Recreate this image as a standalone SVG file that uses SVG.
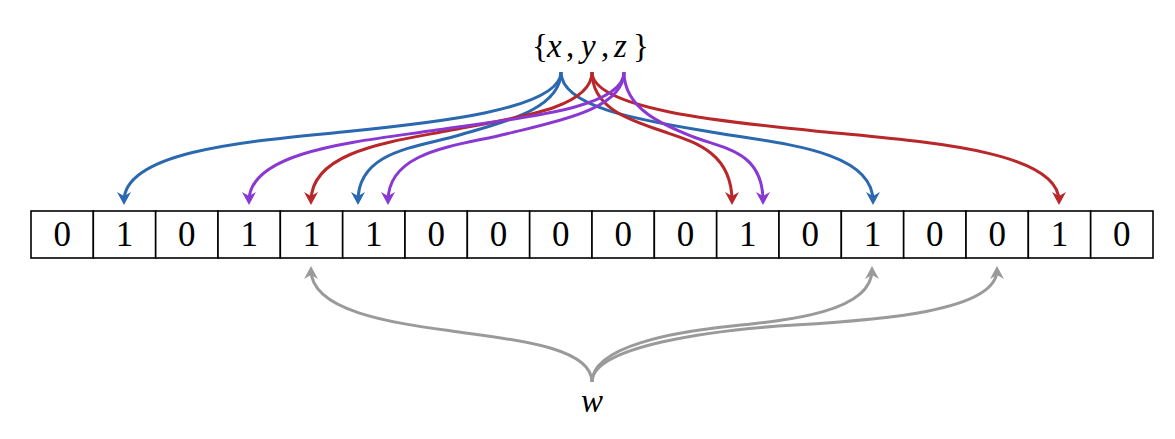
<svg xmlns="http://www.w3.org/2000/svg" width="1175" height="439" viewBox="0 0 1175 439">
<style>
.cell rect{fill:#fff;stroke:#000;stroke-width:1.6}
.cell text{font-family:"Liberation Serif","Times New Roman",serif;font-size:35px;text-anchor:middle;fill:#000}
.lbl{font-family:"Liberation Serif","Times New Roman",serif;font-size:33px;fill:#000}
.it{font-style:italic}
.c{fill:none;stroke-width:3;stroke-linecap:butt}
.b{stroke:#2a68b0}.r{stroke:#b8272a}.p{stroke:#8a38d2}.g{stroke:#9a9a9a}
</style>
<defs>
<marker id="ab" viewBox="-1 -8 15 16" refX="9" refY="0" markerWidth="15" markerHeight="16" markerUnits="userSpaceOnUse" orient="auto"><path d="M13,0 L0,-7 L4,0 L0,7 Z" fill="#2a68b0"/></marker>
<marker id="ar" viewBox="-1 -8 15 16" refX="9" refY="0" markerWidth="15" markerHeight="16" markerUnits="userSpaceOnUse" orient="auto"><path d="M13,0 L0,-7 L4,0 L0,7 Z" fill="#b8272a"/></marker>
<marker id="ap" viewBox="-1 -8 15 16" refX="9" refY="0" markerWidth="15" markerHeight="16" markerUnits="userSpaceOnUse" orient="auto"><path d="M13,0 L0,-7 L4,0 L0,7 Z" fill="#8a38d2"/></marker>
<marker id="ag" viewBox="-1 -8 15 16" refX="9" refY="0" markerWidth="15" markerHeight="16" markerUnits="userSpaceOnUse" orient="auto"><path d="M13,0 L0,-7 L4,0 L0,7 Z" fill="#9a9a9a"/></marker>
</defs>
<rect width="1175" height="439" fill="#fff"/>
<g id="array">
<g id="cell0" class="cell"><rect x="31" y="211" width="62.33" height="47"/><text x="62.2" y="246">0</text></g>
<g id="cell1" class="cell"><rect x="93.33" y="211" width="62.33" height="47"/><text x="124.5" y="246">1</text></g>
<g id="cell2" class="cell"><rect x="155.67" y="211" width="62.33" height="47"/><text x="186.8" y="246">0</text></g>
<g id="cell3" class="cell"><rect x="218" y="211" width="62.33" height="47"/><text x="249.2" y="246">1</text></g>
<g id="cell4" class="cell"><rect x="280.33" y="211" width="62.33" height="47"/><text x="311.5" y="246">1</text></g>
<g id="cell5" class="cell"><rect x="342.67" y="211" width="62.33" height="47"/><text x="373.8" y="246">1</text></g>
<g id="cell6" class="cell"><rect x="405" y="211" width="62.33" height="47"/><text x="436.2" y="246">0</text></g>
<g id="cell7" class="cell"><rect x="467.33" y="211" width="62.33" height="47"/><text x="498.5" y="246">0</text></g>
<g id="cell8" class="cell"><rect x="529.67" y="211" width="62.33" height="47"/><text x="560.8" y="246">0</text></g>
<g id="cell9" class="cell"><rect x="592" y="211" width="62.33" height="47"/><text x="623.2" y="246">0</text></g>
<g id="cell10" class="cell"><rect x="654.33" y="211" width="62.33" height="47"/><text x="685.5" y="246">0</text></g>
<g id="cell11" class="cell"><rect x="716.67" y="211" width="62.33" height="47"/><text x="747.8" y="246">1</text></g>
<g id="cell12" class="cell"><rect x="779" y="211" width="62.33" height="47"/><text x="810.2" y="246">0</text></g>
<g id="cell13" class="cell"><rect x="841.33" y="211" width="62.33" height="47"/><text x="872.5" y="246">1</text></g>
<g id="cell14" class="cell"><rect x="903.67" y="211" width="62.33" height="47"/><text x="934.8" y="246">0</text></g>
<g id="cell15" class="cell"><rect x="966" y="211" width="62.33" height="47"/><text x="997.2" y="246">0</text></g>
<g id="cell16" class="cell"><rect x="1028.33" y="211" width="62.33" height="47"/><text x="1059.5" y="246">1</text></g>
<g id="cell17" class="cell"><rect x="1090.67" y="211" width="62.33" height="47"/><text x="1121.8" y="246">0</text></g>
</g>
<g id="set">
<text class="lbl" y="57"><tspan x="532">{</tspan><tspan class="it" x="547">x</tspan><tspan x="566">,</tspan><tspan class="it" x="581">y</tspan><tspan x="601">,</tspan><tspan class="it" x="614">z</tspan><tspan x="633">}</tspan></text>
</g>
<g id="query">
<text class="lbl it" x="592" y="412" text-anchor="middle">w</text>
</g>
<g id="connectors">
<path class="c b" marker-end="url(#ab)" d="M561,72 C561,110 429.9,123.3 342.5,132 S124,150 124,201"/>
<path class="c b" marker-end="url(#ab)" d="M561,72 C561,110 500.1,122.8 459.5,135 S358,150 358,201"/>
<path class="c b" marker-end="url(#ab)" d="M561,72 C561,110 654.6,122.4 717,133 S873,150 873,201"/>
<path class="c r" marker-end="url(#ar)" d="M592,72 C592,110 507.7,118.8 451.5,130 S311,150 311,201"/>
<path class="c r" marker-end="url(#ar)" d="M592,72 C592,110 634,121.2 662,131 S732,150 732,201"/>
<path class="c r" marker-end="url(#ar)" d="M592,72 C592,110 732.1,122.7 825.5,132 S1059,150 1059,201"/>
<path class="c p" marker-end="url(#ap)" d="M624,72 C624,110 511.5,118.8 436.5,130 S249,150 249,201"/>
<path class="c p" marker-end="url(#ap)" d="M624,72 C624,110 553.2,122.2 506,134 S388,150 388,201"/>
<path class="c p" marker-end="url(#ap)" d="M624,72 C624,110 665.7,125.9 693.5,137 S763,150 763,201"/>
<path class="c g" marker-end="url(#ag)" d="M592,382 C592,346 507.7,338.9 451.5,331 S311,312 311,270"/>
<path class="c g" marker-end="url(#ag)" d="M592,382 C592,346 676,331.6 732,326 S872,312 872,270"/>
<path class="c g" marker-end="url(#ag)" d="M592,382 C592,346 713.5,329.9 794.5,325 S997,312 997,270"/>
</g>
</svg>
